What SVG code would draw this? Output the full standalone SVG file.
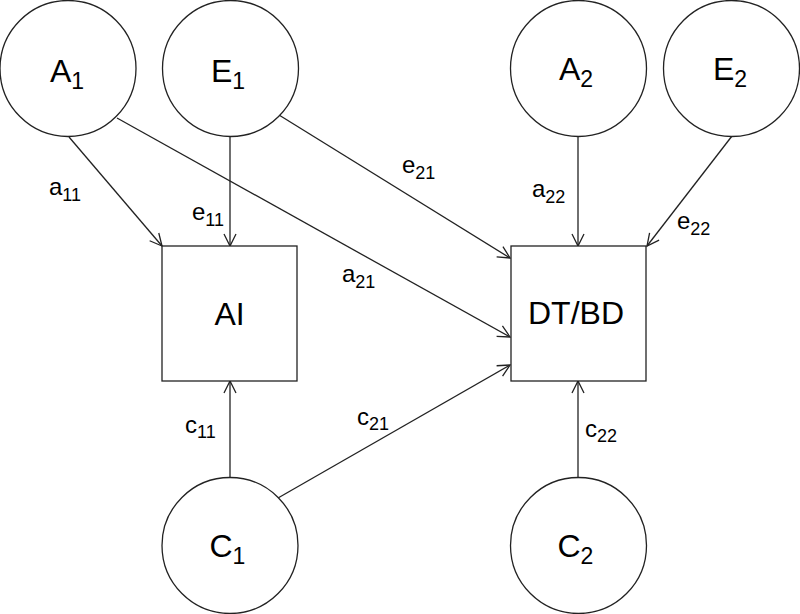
<svg xmlns="http://www.w3.org/2000/svg" width="800" height="614" viewBox="0 0 800 614">
<defs>
<marker id="arr" markerUnits="userSpaceOnUse" viewBox="-14 -8 16 16" markerWidth="16" markerHeight="16" refX="0" refY="0" orient="auto">
<path d="M-12,-6 L0,0 L-12,6" fill="none" stroke="#222" stroke-width="1.3"/>
</marker>
</defs>
<style>
.n{fill:#fff;stroke:#222;stroke-width:1.3}
.t{font-family:"Liberation Sans",Arial,sans-serif;font-size:32px;fill:#000}
.ts{font-size:23px}
.l{font-family:"Liberation Sans",Arial,sans-serif;font-size:24px;fill:#000}
.ls{font-size:18px}
.c{fill:none;stroke:#222;stroke-width:1.3;marker-end:url(#arr)}
</style>
<rect width="800" height="614" fill="#fff"/>
<g id="connectors">
<line class="c" x1="69" y1="137" x2="162" y2="246"/>
<line class="c" x1="230" y1="137" x2="230" y2="246"/>
<line class="c" x1="117" y1="118" x2="510" y2="337"/>
<line class="c" x1="279" y1="115" x2="510" y2="258"/>
<line class="c" x1="278" y1="498" x2="510" y2="365"/>
<line class="c" x1="230" y1="478" x2="230" y2="381"/>
<line class="c" x1="578" y1="136" x2="578" y2="246"/>
<line class="c" x1="732" y1="136" x2="647" y2="246"/>
<line class="c" x1="578" y1="478" x2="578" y2="381"/>
</g>
<g id="labels">
<text class="l" x="49" y="195">a<tspan class="ls" dy="6">11</tspan></text>
<text class="l" x="192" y="220">e<tspan class="ls" dy="6">11</tspan></text>
<text class="l" x="402" y="173">e<tspan class="ls" dy="6">21</tspan></text>
<text class="l" x="342" y="282">a<tspan class="ls" dy="6">21</tspan></text>
<text class="l" x="532" y="197">a<tspan class="ls" dy="6">22</tspan></text>
<text class="l" x="677" y="229">e<tspan class="ls" dy="6">22</tspan></text>
<text class="l" x="185" y="433">c<tspan class="ls" dy="5">11</tspan></text>
<text class="l" x="357" y="425">c<tspan class="ls" dy="5">21</tspan></text>
<text class="l" x="585" y="437">c<tspan class="ls" dy="5">22</tspan></text>
</g>
<g id="A1"><circle class="n" cx="68" cy="68.5" r="68"/><text class="t" x="50" y="82">A<tspan class="ts" dy="7">1</tspan></text></g>
<g id="E1"><circle class="n" cx="230.5" cy="68.5" r="68"/><text class="t" x="211" y="82">E<tspan class="ts" dy="7">1</tspan></text></g>
<g id="A2"><circle class="n" cx="578.5" cy="68.5" r="68"/><text class="t" x="559" y="80">A<tspan class="ts" dy="7">2</tspan></text></g>
<g id="E2"><circle class="n" cx="731.5" cy="68.5" r="68"/><text class="t" x="713" y="80">E<tspan class="ts" dy="7">2</tspan></text></g>
<g id="AI"><rect class="n" x="162" y="246" width="135" height="135"/><text class="t" x="229.5" y="325" text-anchor="middle">AI</text></g>
<g id="DTBD"><rect class="n" x="511" y="246" width="135" height="135"/><text class="t" x="576" y="324" text-anchor="middle">DT/BD</text></g>
<g id="C1"><circle class="n" cx="230" cy="545.5" r="68"/><text class="t" x="209.5" y="557">C<tspan class="ts" dy="7">1</tspan></text></g>
<g id="C2"><circle class="n" cx="578.5" cy="545.5" r="68"/><text class="t" x="557.5" y="557">C<tspan class="ts" dy="7">2</tspan></text></g>
</svg>
